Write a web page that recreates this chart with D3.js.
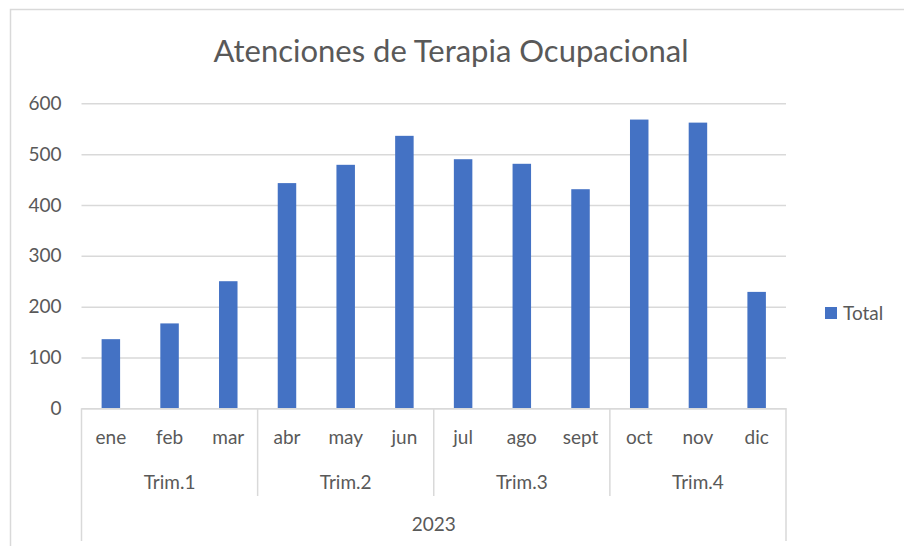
<!DOCTYPE html>
<html>
<head>
<meta charset="utf-8">
<script src="https://cdn.jsdelivr.net/npm/d3@7"></script>
<style>
  body { margin: 0; background: #fff; }
  text { font-family: Lato, "Noto Sans", sans-serif; fill: #595959; }
</style>
</head>
<body>
<div id="chart"></div>
<script>
var W = 904, H = 546;

// data
var months = ["ene", "feb", "mar", "abr", "may", "jun", "jul", "ago", "sept", "oct", "nov", "dic"];
var quarters = ["Trim.1", "Trim.2", "Trim.3", "Trim.4"];
var year = "2023";
var totals = [136, 167, 250, 443, 479, 536, 490, 481, 431, 568, 562, 229];
var yTicks = [0, 100, 200, 300, 400, 500, 600];

var plotLeft = 81.5, plotRight = 786, plotTop = 103.3, plotBottom = 408.3;
var labelSize = "19px";

var svg = d3.select("#chart").append("svg")
            .attr("width", W)
            .attr("height", H);

// chart area border (the picture is cropped on the right and bottom)
svg.append("path")
   .attr("d", "M10.5," + H + "V9.5H" + W)
   .attr("fill", "none")
   .attr("stroke", "#d9d9d9")
   .attr("stroke-width", 1.5);

var x = d3.scaleBand()
          .domain(months)
          .range([plotLeft, plotRight])
          .paddingInner(0.685)
          .paddingOuter(0.3425);

var y = d3.scaleLinear()
          .domain([0, 600])
          .range([plotBottom, plotTop]);

// y axis with gridlines
var yAxis = svg.append("g")
               .attr("transform", "translate(" + plotLeft + ",0)")
               .call(d3.axisLeft(y)
                       .tickValues(yTicks)
                       .tickSizeInner(-(plotRight - plotLeft))
                       .tickSizeOuter(0)
                       .tickPadding(20));
yAxis.select(".domain").remove();
yAxis.selectAll(".tick line")
     .attr("stroke", "#d9d9d9")
     .attr("stroke-width", 1.5);
yAxis.selectAll(".tick text")
     .attr("fill", "#595959")
     .style("font-size", labelSize)
     .style("font-family", "Lato, 'Noto Sans', sans-serif");

// bars
svg.append("g")
   .selectAll("rect")
   .data(totals)
   .enter()
   .append("rect")
   .attr("x", function(d, i){ return x(months[i]); })
   .attr("y", function(d){ return y(d); })
   .attr("width", x.bandwidth())
   .attr("height", function(d){ return y(0) - y(d); })
   .attr("fill", "#4472c4");

// month labels
var xAxis = svg.append("g")
               .attr("transform", "translate(0," + plotBottom + ")")
               .call(d3.axisBottom(x).tickSize(0).tickPadding(22));
xAxis.select(".domain")
     .attr("stroke", "#d9d9d9")
     .attr("stroke-width", 1.5);
xAxis.selectAll(".tick text")
     .attr("fill", "#595959")
     .style("font-size", labelSize)
     .style("font-family", "Lato, 'Noto Sans', sans-serif");

// quarter separators and labels
var step = x.step();
var qStart = function(q){ return x(months[q * 3]) - x.paddingOuter() * step; };
var qEnd = function(q){ return qStart(q) + 3 * step; };

var cat = svg.append("g");
for (var q = 0; q <= quarters.length; q++){
  var xx = q < quarters.length ? qStart(q) : qEnd(quarters.length - 1);
  var isEdge = (q == 0 || q == quarters.length);
  cat.append("line")
     .attr("x1", xx).attr("x2", xx)
     .attr("y1", plotBottom)
     .attr("y2", isEdge ? 541 : 496)
     .attr("stroke", "#d9d9d9")
     .attr("stroke-width", 1.5);
}

cat.selectAll("text.q")
   .data(quarters)
   .enter()
   .append("text")
   .attr("class", "q")
   .attr("x", function(d, i){ return (qStart(i) + qEnd(i)) / 2; })
   .attr("y", 489)
   .attr("text-anchor", "middle")
   .style("font-size", labelSize)
   .text(function(d){ return d; });

cat.append("text")
   .attr("x", (plotLeft + plotRight) / 2)
   .attr("y", 531)
   .attr("text-anchor", "middle")
   .style("font-size", labelSize)
   .text(year);

// title
svg.append("text")
   .attr("x", 451)
   .attr("y", 62)
   .attr("text-anchor", "middle")
   .style("font-size", "31px")
   .text("Atenciones de Terapia Ocupacional");

// legend
var legend = svg.append("g").attr("transform", "translate(825,307)");
legend.append("rect")
      .attr("width", 12)
      .attr("height", 12)
      .attr("fill", "#4472c4");
legend.append("text")
      .attr("x", 18)
      .attr("y", 13)
      .style("font-size", labelSize)
      .text("Total");
</script>
</body>
</html>
